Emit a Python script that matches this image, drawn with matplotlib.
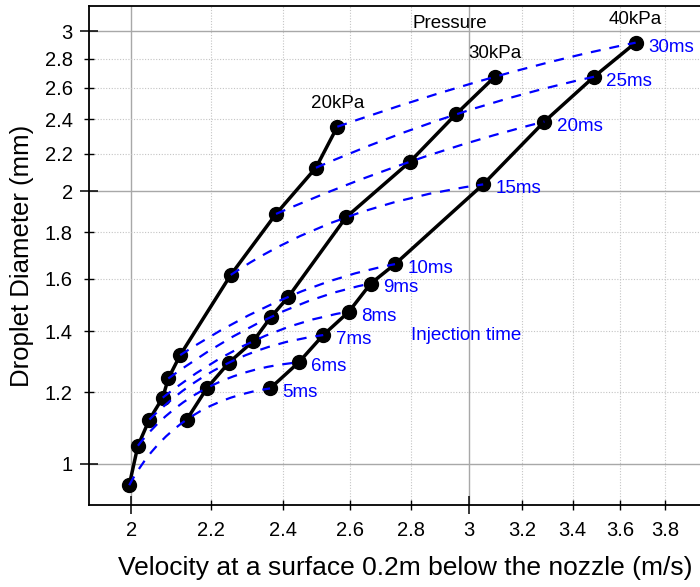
import numpy as np
import matplotlib
matplotlib.use("Agg")
import matplotlib.pyplot as plt
from matplotlib.path import Path
from matplotlib.patches import PathPatch
from matplotlib.ticker import FixedLocator, FuncFormatter

plt.rcParams['font.family'] = ['Liberation Sans', 'DejaVu Sans']

# injection time of each point (ms)
times = [5, 6, 7, 8, 9, 10, 15, 20, 25, 30]

# velocity (m/s) and droplet diameter (mm) for each pressure
v20 = [1.995, 2.016, 2.044, 2.077, 2.091, 2.121, 2.254, 2.380, 2.497, 2.562]
d20 = [0.947, 1.047, 1.119, 1.183, 1.242, 1.318, 1.616, 1.887, 2.122, 2.355]
v30 = [2.138, 2.191, 2.249, 2.316, 2.366, 2.416, 2.589, 2.796, 2.954, 3.096]
d30 = [1.119, 1.213, 1.293, 1.366, 1.453, 1.529, 1.871, 2.155, 2.430, 2.674]
v40 = [2.363, 2.446, 2.519, 2.598, 2.667, 2.746, 3.053, 3.286, 3.488, 3.667]
d40 = [1.211, 1.294, 1.387, 1.472, 1.581, 1.661, 2.034, 2.386, 2.674, 2.916]

pressures = ["20kPa", "30kPa", "40kPa"]
xticks_major = [2, 3]
xticks_minor = [2.2, 2.4, 2.6, 2.8, 3.2, 3.4, 3.6, 3.8]
yticks_major = [1, 2, 3]
yticks_minor = [1.2, 1.4, 1.6, 1.8, 2.2, 2.4, 2.6, 2.8]

fig = plt.figure(figsize=(7.0, 5.87), dpi=100)
ax = fig.add_axes([0.1266, 0.1393, 0.8734, 0.8503])
ax.set_xscale('log')
ax.set_yscale('log')
ax.set_xlim(1.9, 3.962)
ax.set_ylim(0.9, 3.2)

# ticks and grid
ax.xaxis.set_major_locator(FixedLocator(xticks_major))
ax.xaxis.set_minor_locator(FixedLocator(xticks_minor))
ax.yaxis.set_major_locator(FixedLocator(yticks_major))
ax.yaxis.set_minor_locator(FixedLocator(yticks_minor))
fmt = FuncFormatter(lambda v, p: "%g" % v)
ax.xaxis.set_major_formatter(fmt)
ax.xaxis.set_minor_formatter(fmt)
ax.yaxis.set_major_formatter(fmt)
ax.yaxis.set_minor_formatter(fmt)
ax.grid(True, which='major', color='#a8a8a8', lw=1.0, ls='-', zorder=0)
ax.grid(True, which='minor', color='#c4c4c4', lw=0.8, ls=(0, (1, 1.5)), zorder=0)
ax.set_axisbelow(True)

ax.tick_params(which='major', direction='inout', length=13, width=1.1, pad=5,
               labelsize=14.5, top=False, right=False)
ax.tick_params(which='minor', direction='inout', length=7, width=1.0, pad=8,
               labelsize=14.5, top=False, right=False)
for s in ['left', 'bottom', 'top']:
    ax.spines[s].set_linewidth(1.3)
ax.spines['right'].set_visible(False)

# pressure curves
vs = [v20, v30, v40]
ds = [d20, d30, d40]
for v, d in zip(vs, ds):
    ax.plot(v, d, color='black', lw=2.5, marker='o', ms=10, zorder=3)

# injection time curves (smooth quadratic through the three pressures, in log space)
for i in range(len(times)):
    px = np.log10([v20[i], v30[i], v40[i]])
    py = np.log10([d20[i], d30[i], d40[i]])
    cx = 2 * px[1] - (px[0] + px[2]) / 2
    cy = 2 * py[1] - (py[0] + py[2]) / 2
    verts = [(v20[i], d20[i]), (10 ** cx, 10 ** cy), (v40[i], d40[i])]
    path = Path(verts, [Path.MOVETO, Path.CURVE3, Path.CURVE3])
    ax.add_patch(PathPatch(path, fill=False, edgecolor='#0000ff', lw=1.6,
                           ls=(0, (4.5, 4)), zorder=4))
    ax.annotate("%dms" % times[i], (v40[i], d40[i]), xytext=(9, -3.2),
                textcoords='offset points', ha='left', va='center',
                color='#0000ff', fontsize=13.5)

# pressure labels
for name, v, d in zip(pressures, vs, ds):
    ax.annotate(name, (v[-1], d[-1]), xytext=(0, 17), textcoords='offset points',
                ha='center', va='center', color='black', fontsize=13.5)

ax.text(2.934, 3.065, "Pressure", ha='center', va='center', fontsize=13.5)
ax.text(2.80, 1.387, "Injection time", ha='left', va='center', fontsize=13.5,
        color='#0000ff')

ax.set_xlabel("Velocity at a surface 0.2m below the nozzle (m/s)", fontsize=19)
ax.set_ylabel("Droplet Diameter (mm)", fontsize=18.5)
ax.xaxis.set_label_coords(0.5175, -0.101)
ax.yaxis.set_label_coords(-0.090, 0.5)

fig.savefig("out.png", dpi=100)
